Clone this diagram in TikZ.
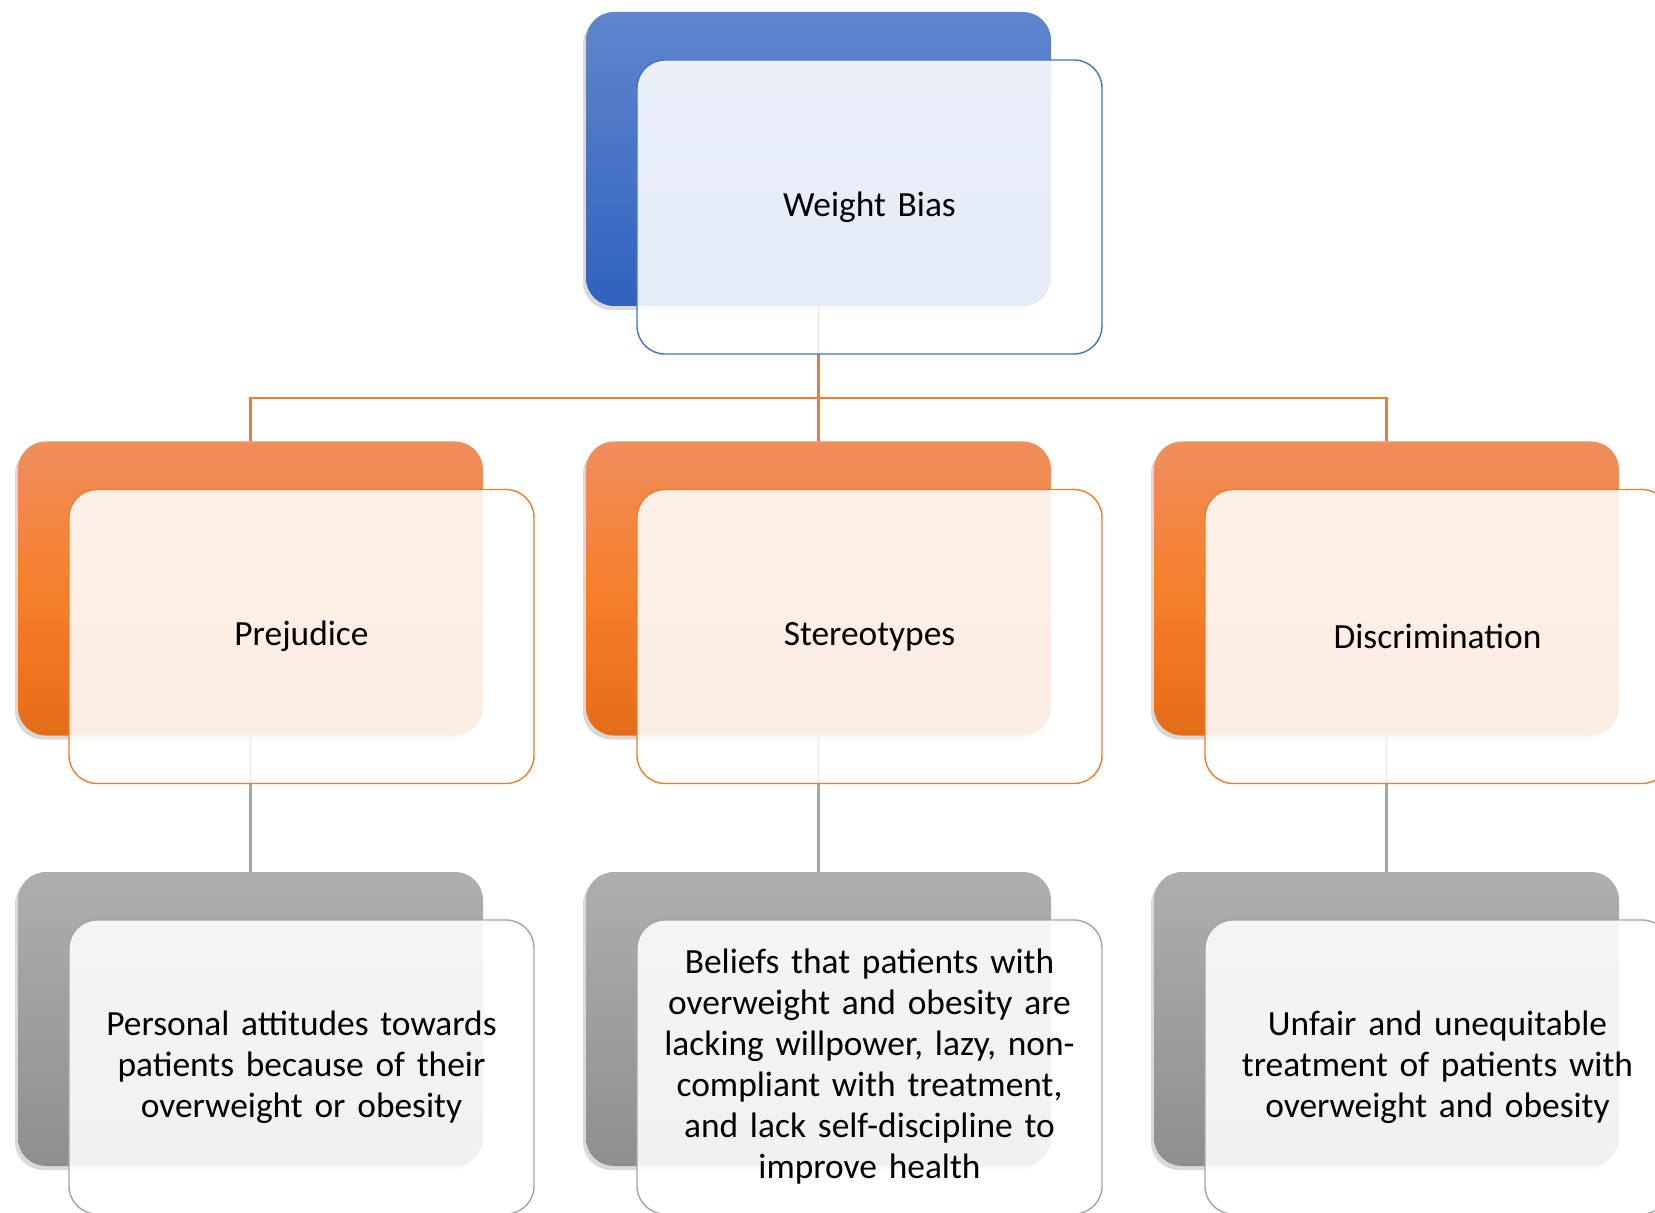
\documentclass[tikz,border=0pt]{standalone}
\usepackage{fontspec}
\setmainfont{Carlito}[WordSpace=0.9]
\usetikzlibrary{shadows,calc}
\definecolor{wbblue}{RGB}{68,114,196}
\definecolor{wborange}{RGB}{237,125,49}
\definecolor{wbgray}{RGB}{165,165,165}
\begin{document}
\begin{tikzpicture}[x=0.5pt,y=-0.5pt,
  card/.style={rounded corners=14pt,minimum width=232.5pt,minimum height=147pt,inner sep=0pt},
  back/.style={card,drop shadow={shadow xshift=-1.5pt,shadow yshift=-2pt,opacity=0.3}},
  blueback/.style={back,top color={rgb,255:red,96;green,134;blue,205},bottom color={rgb,255:red,47;green,98;blue,190}},
  orangeback/.style={back,top color={rgb,255:red,240;green,142;blue,92},bottom color={rgb,255:red,228;green,108;blue,24},middle color={rgb,255:red,245;green,128;blue,45}},
  grayback/.style={back,top color={rgb,255:red,174;green,174;blue,174},bottom color={rgb,255:red,143;green,143;blue,143}},
  front/.style={card,fill=white,fill opacity=0.88,text opacity=1,line width=0.7pt,
    align=center,text width=226pt,font=\fontsize{17.7pt}{20.5pt}\selectfont},
  orangeline/.style={draw=wborange,line width=1.2pt},
  grayline/.style={draw=wbgray,line width=1.2pt}]
  \clip (0,0) rectangle (1655,1213);
  % connectors: top to middle row, middle row to bottom row
  \coordinate (hub) at (818.5,398);
  \draw[orangeline] (818.5,306) coordinate (wbfoot) -- (818.5,441) coordinate (stfoot);
  \draw[orangeline] (250.5,441) coordinate (prfoot) |- (hub) -| (1386.5,441) coordinate (difoot);
  \foreach \x in {250.5,818.5,1386.5}
    \draw[grayline] (\x,736) -- (\x,872);
  % back cards
  \node[blueback] (wb) at (818.5,159) {};
  \node[orangeback] (pr) at (250.5,588.5) {};
  \node[orangeback] (st) at (818.5,588.5) {};
  \node[orangeback] (di) at (1386.5,588.5) {};
  \node[grayback] (prd) at (250.5,1019) {};
  \node[grayback] (std) at (818.5,1019) {};
  \node[grayback] (did) at (1386.5,1019) {};
  % front cards with the texts
  \node[front,draw=wbblue] (wbt) at ($(wb)+(51,48)$) {Weight Bias};
  \node[front,draw=wborange] (prt) at ($(pr)+(51,48)$) {Prejudice};
  \node[front,draw=wborange] (stt) at ($(st)+(51,48)$) {Stereotypes};
  \node[front,draw=wborange] (dit) at ($(di)+(51,48)$) {Discrimination};
  \node[front,draw=wbgray] (prdt) at ($(prd)+(51,48)$)
    {Personal attitudes towards\\patients because of their\\overweight or obesity};
  \node[front,draw=wbgray] (stdt) at ($(std)+(51,48)$)
    {Beliefs that patients with\\overweight and obesity are\\lacking willpower, lazy, non-\\compliant with treatment,\\and lack self-discipline to\\improve health};
  \node[front,draw=wbgray] (didt) at ($(did)+(51,48)$)
    {Unfair and unequitable\\treatment of patients with\\overweight and obesity};
\end{tikzpicture}
\end{document}
